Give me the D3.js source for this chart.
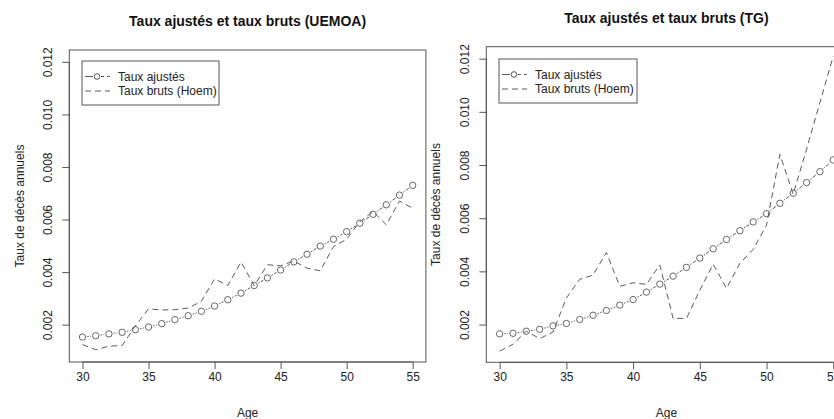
<!DOCTYPE html>
<html><head><meta charset="utf-8">
<script src="https://cdn.jsdelivr.net/npm/d3@7"></script>
<style>body{margin:0;background:#fff}svg{display:block}text{font-family:"Liberation Sans",Arial,sans-serif}</style>
</head><body><svg id="c" width="834" height="419"></svg>
<script>
const ages = d3.range(30, 56);
const uemoaAdjusted = [0.00153,0.00158,0.00165,0.00171,0.00181,0.00191,0.00204,0.00219,0.00234,0.00251,0.00271,0.00295,0.00320,0.00349,0.00378,0.00408,0.00439,0.00468,0.00499,0.00525,0.00554,0.00586,0.00620,0.00656,0.00693,0.00730];
const uemoaCrude    = [0.00124,0.00105,0.00118,0.00121,0.00195,0.00260,0.00256,0.00257,0.00263,0.00289,0.00374,0.00349,0.00438,0.00348,0.00428,0.00424,0.00442,0.00415,0.00405,0.00497,0.00525,0.00592,0.00630,0.00580,0.00670,0.00643];
const tgAdjusted    = [0.00165,0.00167,0.00175,0.00182,0.00195,0.00204,0.00219,0.00235,0.00253,0.00273,0.00294,0.00322,0.00352,0.00382,0.00415,0.00450,0.00485,0.00520,0.00553,0.00586,0.00617,0.00656,0.00694,0.00734,0.00775,0.00819];
const tgCrude       = [0.00100,0.00126,0.00175,0.00147,0.00172,0.00300,0.00370,0.00386,0.00471,0.00344,0.00357,0.00351,0.00424,0.00223,0.00223,0.00329,0.00427,0.00336,0.00430,0.00483,0.00574,0.00840,0.00690,0.00860,0.01035,0.01210];
const xTicks = [30,35,40,45,50,55];
const yTicks = [0.002,0.004,0.006,0.008,0.010,0.012];
const titles = ["Taux ajustés et taux bruts (UEMOA)", "Taux ajustés et taux bruts (TG)"];
const legendLabels = ["Taux ajustés", "Taux bruts (Hoem)"];
const xLabel = "Age", yLabel = "Taux de décès annuels";

const svg = d3.select("#c");
const panels = [
  {adj: uemoaAdjusted, crude: uemoaCrude, title: titles[0], box:{l:69.3,r:425.9,t:50,b:362}, titleY:26, yLabX:19.5, tickLabX:48, legend:{x:82,y:61,w:137,h:44}},
  {adj: tgAdjusted, crude: tgCrude, title: titles[1], box:{l:486.3,r:846.6,t:46.7,b:362.3}, titleY:22.5, yLabX:435.5, tickLabX:464.5, legend:{x:499,y:59,w:138,h:44}}
];
const lineCol = "#5a5a5a", axCol = "#555", txtCol = "#222";

panels.forEach(p => {
  const g = svg.append("g");
  const x = d3.scaleLinear().domain([29, 56]).range([p.box.l, p.box.r]);
  const y = d3.scaleLinear().domain([0.00058, 0.01245]).range([p.box.b, p.box.t]);
  g.append("rect").attr("x", p.box.l).attr("y", p.box.t).attr("width", p.box.r - p.box.l).attr("height", p.box.b - p.box.t)
    .attr("fill","none").attr("stroke", axCol).attr("stroke-width", 1);
  const xa = g.append("g").attr("transform", `translate(0,${p.box.b})`)
    .call(d3.axisBottom(x).tickValues(xTicks).tickSize(7).tickPadding(3).tickFormat(d3.format("d")));
  xa.select(".domain").attr("d", `M${x(30)},0H${x(55)}`).attr("stroke", axCol);
  xa.selectAll(".tick line").attr("stroke", axCol);
  xa.selectAll("text").attr("fill", txtCol).style("font-size","12px").style("font-family","Liberation Sans, Arial");
  const ya = g.append("g").attr("transform", `translate(${p.box.l},0)`)
    .call(d3.axisLeft(y).tickValues(yTicks).tickSize(7).tickFormat(d3.format(".3f")));
  ya.select(".domain").attr("d", `M0,${y(0.002)}V${y(0.012)}`).attr("stroke", axCol);
  ya.selectAll(".tick line").attr("stroke", axCol);
  ya.selectAll("text").attr("fill", txtCol).style("font-size","12px").style("font-family","Liberation Sans, Arial")
    .attr("x", null).attr("dy", null)
    .attr("transform", `translate(${p.tickLabX - p.box.l},0) rotate(-90)`)
    .attr("text-anchor","middle").attr("dominant-baseline","central");
  const cx = (p.box.l + p.box.r) / 2;
  g.append("text").attr("x", cx).attr("y", p.titleY).attr("text-anchor","middle")
    .style("font-size","14px").style("font-weight","bold").attr("fill","#111").text(p.title);
  g.append("text").attr("x", cx).attr("y", 417).attr("text-anchor","middle")
    .style("font-size","12px").attr("fill", txtCol).text(xLabel);
  g.append("text").attr("transform", `translate(${p.yLabX},${(p.box.t+p.box.b)/2}) rotate(-90)`).attr("text-anchor","middle")
    .attr("dominant-baseline","central").style("font-size","12px").attr("fill", txtCol).text(yLabel);

  g.append("path").datum(ages.map((a,i)=>[a,p.crude[i]]))
    .attr("d", d3.line().x(d=>x(d[0])).y(d=>y(d[1])))
    .attr("fill","none").attr("stroke", lineCol).attr("stroke-width",1).attr("stroke-dasharray","6,4");
  const r = 3.2, gap = 1.6;
  const pts = ages.map((a,i)=>[x(a), y(p.adj[i])]);
  for (let i=0;i<pts.length-1;i++){
    const [x0,y0]=pts[i],[x1,y1]=pts[i+1];
    const L=Math.hypot(x1-x0,y1-y0), s=(r+gap)/L;
    if (L > 2*(r+gap)) {
      g.append("line").attr("x1",x0+(x1-x0)*s).attr("y1",y0+(y1-y0)*s)
        .attr("x2",x1-(x1-x0)*s).attr("y2",y1-(y1-y0)*s)
        .attr("stroke", lineCol).attr("stroke-width",1).attr("stroke-dasharray","1.5,1.5,4,2");
    }
  }
  g.selectAll("circle.adj").data(pts).enter().append("circle").attr("class","adj")
    .attr("cx",d=>d[0]).attr("cy",d=>d[1]).attr("r",r)
    .attr("fill","none").attr("stroke","#666").attr("stroke-width",1);

  const L = p.legend;
  g.append("rect").attr("x",L.x).attr("y",L.y).attr("width",L.w).attr("height",L.h)
    .attr("fill","#fff").attr("stroke", axCol).attr("stroke-width",1);
  const r1 = L.y + 15.5, r2 = L.y + 30;
  g.append("line").attr("x1",L.x+3).attr("x2",L.x+11).attr("y1",r1).attr("y2",r1).attr("stroke",lineCol);
  g.append("line").attr("x1",L.x+19).attr("x2",L.x+28).attr("y1",r1).attr("y2",r1).attr("stroke",lineCol).attr("stroke-dasharray","3,3");
  g.append("circle").attr("cx",L.x+15).attr("cy",r1).attr("r",2.8).attr("fill","none").attr("stroke","#555");
  g.append("line").attr("x1",L.x+3).attr("x2",L.x+28).attr("y1",r2).attr("y2",r2).attr("stroke",lineCol).attr("stroke-dasharray","6,4");
  g.append("text").attr("x",L.x+36).attr("y",r1).attr("dominant-baseline","central").style("font-size","12px").attr("fill",txtCol).text(legendLabels[0]);
  g.append("text").attr("x",L.x+36).attr("y",r2).attr("dominant-baseline","central").style("font-size","12px").attr("fill",txtCol).text(legendLabels[1]);
});
</script></body></html>
